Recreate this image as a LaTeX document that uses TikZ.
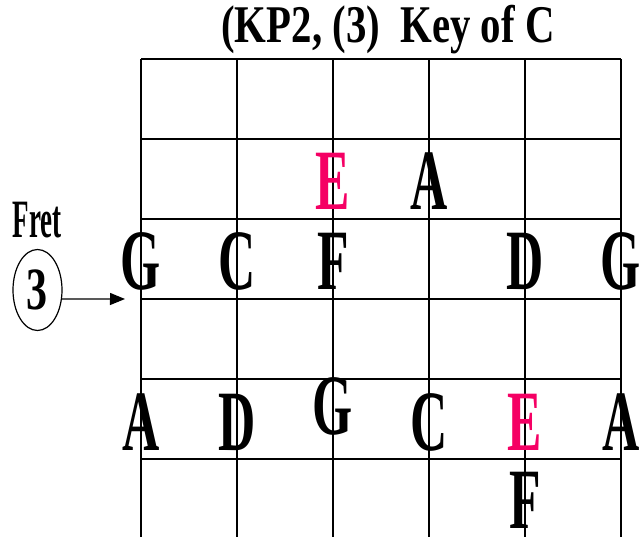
\documentclass[tikz,border=0pt]{standalone}
\usepackage{fontspec}
\setmainfont{Liberation Serif}
\usetikzlibrary{arrows.meta,shapes.geometric}
\definecolor{rootpink}{RGB}{245,0,100}

\begin{document}
\begin{tikzpicture}[x=1pt,y=-1pt,
    string/.style={line width=1.6pt},
    note/.style={anchor=base, inner sep=0pt, xscale=0.6,
      font=\fontsize{86}{86}\selectfont\bfseries},
    keynote/.style={note, text=rootpink}]
  \useasboundingbox (0,0) rectangle (640,537);
  % title
  \node[anchor=base, inner sep=0pt, xscale=0.77,
    font=\fontsize{53}{53}\selectfont\bfseries] (title) at (388,43) {(KP2, (3)\ \ Key of C};
  % fretboard
  \foreach \x in {141,237,333,429,525,621}
    \draw[string] (\x,59) -- (\x,537);
  \foreach \y in {59,139,219,299,379,459}
    \draw[string] (141,\y) -- (621,\y);
  % fret marker
  \node[anchor=base, inner sep=0pt, xscale=0.5,
    font=\fontsize{54}{54}\selectfont\bfseries] (fretlabel) at (37,238) {Fret};
  \node[draw, ellipse, line width=1.2pt, inner sep=0pt,
    minimum width=49, minimum height=81] (fret) at (37.5,290)
    {\scalebox{0.7}[1]{\fontsize{60}{60}\selectfont\bfseries 3}};
  \coordinate (arrowtip) at (125,299);
  \draw[line width=1.2pt, -{Triangle[length=15pt,width=12pt]}] (fret.-20) -- (arrowtip);
  % notes
  \node[keynote] (e1) at (333,210) {E};
  \node[note] (a1) at (429,210) {A};
  \node[note] (g1) at (141,290) {G};
  \node[note] (c1) at (237,290) {C};
  \node[note] (f1) at (333,290) {F};
  \node[note] (d1) at (525,290) {D};
  \node[note] (g2) at (621,290) {G};
  \node[note] (a2) at (141,450) {A};
  \node[note] (d2) at (237,450) {D};
  \node[note] (g3) at (333,434) {G};
  \node[note] (c2) at (429,450) {C};
  \node[keynote] (e2) at (525,450) {E};
  \node[note] (a3) at (621,450) {A};
  \node[note] (f2) at (525,528) {F};
\end{tikzpicture}
\end{document}
